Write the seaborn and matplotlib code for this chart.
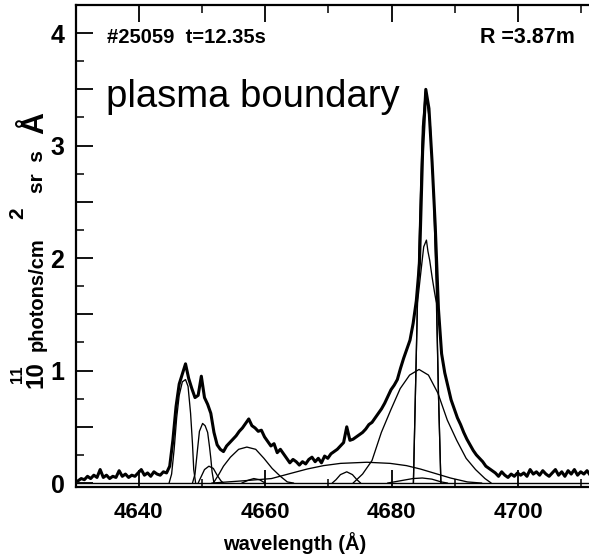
import numpy as np
import pandas as pd
import matplotlib
matplotlib.use("Agg")
import matplotlib.pyplot as plt
import seaborn as sns

# ---------------- data ----------------
# measured spectrum, sampled every 0.5 A starting at 4630.4 A
spec_start = 4630.4
spec_step = 0.5
spec_intensity = [
    0.02, 0.04, 0.03, 0.06, 0.04, 0.07, 0.05, 0.12, 0.05, 0.07,
    0.04, 0.06, 0.05, 0.11, 0.06, 0.08, 0.05, 0.07, 0.06, 0.09,
    0.12, 0.07, 0.09, 0.06, 0.10, 0.08, 0.07, 0.10, 0.09, 0.15,
    0.38, 0.68, 0.88, 0.97, 1.06, 0.93, 0.84, 0.76, 0.78, 0.95,
    0.76, 0.70, 0.62, 0.45, 0.34, 0.30, 0.28, 0.33, 0.36, 0.39,
    0.42, 0.46, 0.49, 0.53, 0.57, 0.51, 0.49, 0.46, 0.47, 0.41,
    0.37, 0.33, 0.35, 0.27, 0.30, 0.26, 0.22, 0.18, 0.21, 0.19,
    0.16, 0.19, 0.17, 0.21, 0.23, 0.19, 0.22, 0.18, 0.24, 0.22,
    0.26, 0.28, 0.30, 0.33, 0.36, 0.50, 0.38, 0.39, 0.41, 0.43,
    0.45, 0.48, 0.52, 0.54, 0.58, 0.62, 0.66, 0.71, 0.77, 0.83,
    0.87, 0.92, 1.02, 1.11, 1.19, 1.27, 1.42, 1.62, 1.95, 2.95,
    3.50, 3.33, 2.85, 2.28, 1.55, 1.15, 0.98, 0.86, 0.74, 0.66,
    0.58, 0.52, 0.45, 0.39, 0.34, 0.29, 0.25, 0.22, 0.19, 0.15,
    0.13, 0.11, 0.09, 0.06, 0.10, 0.07, 0.05, 0.08, 0.06, 0.09,
    0.07, 0.09, 0.06, 0.12, 0.08, 0.10, 0.07, 0.11, 0.08, 0.06,
    0.09, 0.12, 0.07, 0.10, 0.06, 0.11, 0.08, 0.12, 0.07, 0.10,
    0.08, 0.11, 0.07,
]

# fitted components (wavelength, intensity)
c1_wl = [4644.8, 4645.2, 4645.6, 4646.0, 4646.4, 4646.9, 4647.4, 4647.8, 4648.2, 4648.5, 4648.7, 4649.0]
c1_val = [0.0, 0.08, 0.30, 0.58, 0.78, 0.90, 0.92, 0.86, 0.62, 0.35, 0.12, 0.0]
c2_wl = [4648.5, 4648.9, 4649.3, 4649.6, 4650.1, 4650.5, 4650.9, 4651.2, 4651.4, 4651.6, 4651.9]
c2_val = [0.0, 0.08, 0.30, 0.46, 0.53, 0.51, 0.45, 0.32, 0.22, 0.10, 0.0]
c3_wl = [4649.4, 4649.9, 4650.4, 4651.1, 4651.8, 4652.4, 4653.0, 4653.4]
c3_val = [0.0, 0.06, 0.12, 0.15, 0.13, 0.07, 0.02, 0.0]
c4_wl = [4651.8, 4652.7, 4653.4, 4654.5, 4655.8, 4657.1, 4658.5, 4659.8, 4661.1, 4662.4, 4663.5, 4664.5]
c4_val = [0.0, 0.08, 0.15, 0.23, 0.30, 0.32, 0.30, 0.22, 0.13, 0.06, 0.01, 0.0]
c5_wl = [4656.3, 4657.3, 4658.2, 4659.1, 4660.0]
c5_val = [0.0, 0.025, 0.04, 0.03, 0.0]
c6_wl = [4651.55, 4656.52, 4660.99, 4663.97, 4666.65, 4669.23, 4671.92, 4676.09,
         4679.76, 4682.34, 4684.53, 4686.62, 4689.30, 4691.98, 4694.26]
c6_val = [0.0, 0.02, 0.04, 0.085, 0.125, 0.155, 0.175, 0.185,
          0.175, 0.155, 0.125, 0.09, 0.045, 0.01, 0.0]
c7_wl = [4670.6, 4671.2, 4671.9, 4672.9, 4673.8, 4674.5, 4675.1]
c7_val = [0.0, 0.03, 0.075, 0.10, 0.075, 0.03, 0.0]
c8_wl = [4673.9, 4675.4, 4676.89, 4678.37, 4679.86, 4681.35, 4682.84, 4684.33,
         4685.82, 4687.31, 4688.80, 4690.29, 4691.78, 4693.27, 4694.76, 4695.75]
c8_val = [0.0, 0.08, 0.20, 0.45, 0.65, 0.84, 0.96, 1.01,
          0.96, 0.80, 0.56, 0.38, 0.22, 0.12, 0.04, 0.0]
c9_wl = [4683.44, 4683.76, 4684.12, 4684.55, 4684.87, 4685.34, 4686.13, 4686.61, 4687.08, 4687.40, 4687.79]
c9_val = [0.0, 0.80, 1.69, 2.58, 3.17, 3.48, 3.17, 2.58, 1.69, 0.80, 0.0]
c10_wl = [4683.44, 4683.76, 4684.08, 4684.55, 4685.07, 4685.50, 4685.74, 4686.02, 4686.40, 4686.77, 4687.08, 4687.40, 4687.79]
c10_val = [0.0, 0.80, 1.60, 1.84, 2.10, 2.16, 2.06, 1.98, 1.83, 1.70, 1.60, 0.80, 0.0]
c11_wl = [4679.35, 4681.35, 4683.35, 4684.85, 4686.35, 4687.85, 4688.85]
c11_val = [0.0, 0.02, 0.04, 0.045, 0.035, 0.01, 0.0]

x_ticks = [4640, 4660, 4680, 4700]
x_ticklabels = ["4640", "4660", "4680", "4700"]
y_ticks = [0, 0.5, 1, 1.5, 2, 2.5, 3, 3.5, 4]
y_ticklabels = ["0", "", "1", "", "2", "", "3", "", "4"]

shot_label = "#25059  t=12.35s"
radius_label = "R =3.87m"
region_label = "plasma boundary"
x_title = "wavelength (Å)"

# ---------------- tables ----------------
spec_df = pd.DataFrame({
    "wavelength": np.round(spec_start + spec_step * np.arange(len(spec_intensity)), 2),
    "intensity": spec_intensity,
})
comp_lists = [(c1_wl, c1_val), (c2_wl, c2_val), (c3_wl, c3_val), (c4_wl, c4_val),
              (c5_wl, c5_val), (c6_wl, c6_val), (c7_wl, c7_val), (c8_wl, c8_val),
              (c9_wl, c9_val), (c10_wl, c10_val), (c11_wl, c11_val)]
comp_df = pd.concat([
    pd.DataFrame({"wavelength": w, "intensity": v, "comp": f"c{i+1}"})
    for i, (w, v) in enumerate(comp_lists)
], ignore_index=True)

# ---------------- figure ----------------
sns.set_theme(style="ticks")
plt.rcParams["font.family"] = ["Liberation Sans", "DejaVu Sans"]
for key in ["text.color", "axes.labelcolor", "xtick.color", "ytick.color",
            "axes.edgecolor"]:
    plt.rcParams[key] = "black"

W, H = 589, 556
fig = plt.figure(figsize=(W / 100, H / 100), dpi=100)
px_left, px_top, px_bottom = 75.5, 5.0, 487.0
xmin, xmax = 4630.0, 4720.0
px_per_A = 6.323
ax = fig.add_axes([px_left / W, 1 - px_bottom / H,
                   (xmax - xmin) * px_per_A / W, (px_bottom - px_top) / H])

ax.axhline(0, color="black", lw=1.0, zorder=1)
sns.lineplot(data=comp_df, x="wavelength", y="intensity", units="comp",
             estimator=None, color="black", lw=0.95, ax=ax, legend=False)
sns.lineplot(data=spec_df, x="wavelength", y="intensity", estimator=None,
             color="black", lw=2.2, ax=ax, legend=False)

ax.set_xlim(xmin, xmax)
ax.set_ylim(-0.035, 4.25)
ax.set_xlabel("")
ax.set_ylabel("")

ax.set_xticks(x_ticks)
ax.set_xticklabels(x_ticklabels, fontsize=16, fontweight="bold")
ax.xaxis.set_minor_locator(matplotlib.ticker.MultipleLocator(10))
ax.set_yticks(y_ticks)
ax.set_yticklabels(y_ticklabels, fontsize=18, fontweight="bold")
ax.yaxis.set_minor_locator(matplotlib.ticker.MultipleLocator(0.25))

ax.tick_params(which="both", direction="in", top=True, right=False, colors="black")
ax.tick_params(which="major", length=12, width=1.3)
ax.tick_params(which="minor", length=6, width=1.1)
ax.tick_params(axis="x", which="major", pad=11)
ax.tick_params(axis="y", which="major", pad=8)
ax.spines["right"].set_visible(False)
for s in ["left", "top", "bottom"]:
    ax.spines[s].set_linewidth(1.6)
    ax.spines[s].set_color("black")


def fx(px):
    return px / W


def fy(py):
    return 1 - py / H


fig.text(fx(107), fy(37.5), shot_label, fontsize=14.5, fontweight="bold",
         ha="left", va="center", color="black")
fig.text(fx(575), fy(37.5), radius_label, fontsize=15.5, fontweight="bold",
         ha="right", va="center", color="black")
fig.text(fx(106), fy(107), region_label, fontsize=27.5, ha="left",
         va="baseline", color="black")
fig.text(fx(295), fy(543), x_title, fontsize=14.5, fontweight="bold",
         ha="center", va="center", color="black")

# y-axis title, built from pieces (rotated)
ykw = dict(rotation=90, rotation_mode="anchor", ha="left", va="baseline",
           fontweight="bold", color="black")
fig.text(fx(43), fy(388), "10", fontsize=17.5, **ykw)
fig.text(fx(22), fy(383), "11", fontsize=12, **ykw)
fig.text(fx(43), fy(351), "photons/cm", fontsize=14.5, **ykw)
fig.text(fx(23), fy(219), "2", fontsize=15, **ykw)
fig.text(fx(43), fy(193), "sr  s", fontsize=15, **ykw)
fig.text(fx(43), fy(134), "Å", fontsize=22, **ykw)

fig.savefig("out.png", dpi=100)
